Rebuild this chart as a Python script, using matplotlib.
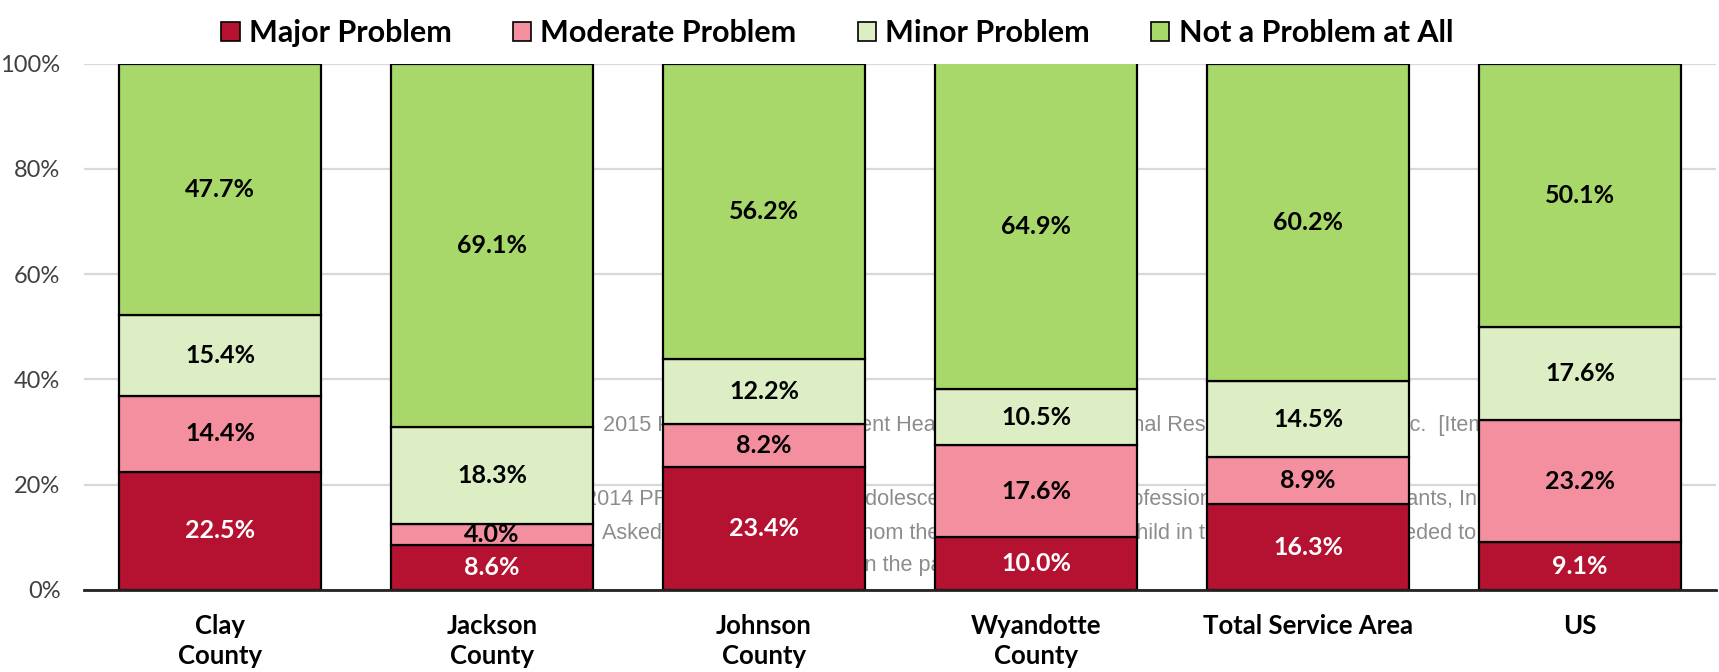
import numpy as np
import matplotlib.pyplot as plt
from matplotlib.patches import Patch

# Chart data
categories = ["Clay\nCounty", "Jackson\nCounty", "Johnson\nCounty",
              "Wyandotte\nCounty", "Total Service Area", "US"]
series_names = ["Major Problem", "Moderate Problem", "Minor Problem",
                "Not a Problem at All"]
major = [22.5, 8.6, 23.4, 10.0, 16.3, 9.1]
moderate = [14.4, 4.0, 8.2, 17.6, 8.9, 23.2]
minor = [15.4, 18.3, 12.2, 10.5, 14.5, 17.6]
not_problem = [47.7, 69.1, 56.2, 64.9, 60.2, 50.1]
y_ticks = [0, 20, 40, 60, 80, 100]
y_tick_labels = ["0%", "20%", "40%", "60%", "80%", "100%"]

# source note that sits behind the bars
note_lines = [
    "2015 PRC Child & Adolescent Health Survey, Professional Research Consultants, Inc.  [Item 121]",
    "2014 PRC National Child & Adolescent Health Survey, Professional Research Consultants, Inc.",
    "Asked about the child for whom the survey was done:  child in the past year, who needed to see a doctor",
    "see a specialist in the past year?",
]

colors = ["#B51232", "#F48FA0", "#DDEEC4", "#A8D86A"]
text_colors = ["white", "black", "black", "black"]

plt.rcParams['font.family'] = ['Lato', 'DejaVu Sans']

fig = plt.figure(figsize=(17.19, 6.72), dpi=100)
ax = fig.add_axes([84 / 1719, 1 - 590 / 672, (1716 - 84) / 1719, (590 - 63.6) / 672])

x = np.arange(len(categories))
series = [major, moderate, minor, not_problem]
bottom = np.zeros(len(categories))
for vals, name, col, tcol in zip(series, series_names, colors, text_colors):
    vals = np.array(vals)
    ax.bar(x, vals, 0.74, bottom=bottom, color=col, edgecolor="black",
           linewidth=1.6, label=name, zorder=3)
    for xi, b, v in zip(x, bottom, vals):
        top = min(b + v, 100)
        ax.text(xi, (b + top) / 2, f"{v:.1f}%", ha="center", va="center",
                fontsize=18, fontweight="bold", color=tcol, zorder=4)
    bottom += vals

# background note text (partly hidden behind bars)
note_pos = [(603, 425), (585, 499), (602, 534), (706, 565)]
for line, (px, py) in zip(note_lines, note_pos):
    ax.text(px / 1719, 1 - py / 672, line, transform=fig.transFigure,
            ha="left", va="center", fontsize=15.6, color="#8C8C8C",
            family="Liberation Sans", zorder=1, clip_on=False)

ax.set_xlim(-0.5, len(categories) - 0.5)
ax.set_ylim(0, 100)
ax.set_yticks(y_ticks)
ax.set_yticklabels(y_tick_labels, fontsize=17, color="#404040")
ax.set_xticks(x)
ax.set_xticklabels(categories, fontsize=18.5, fontweight="bold", linespacing=1.3)
ax.tick_params(axis="both", length=0)
ax.tick_params(axis="y", pad=17)
ax.tick_params(axis="x", pad=17)

ax.yaxis.grid(True, color="#D9D9D9", linewidth=1.6, zorder=0)
ax.set_axisbelow(True)
for s in ["top", "right", "left"]:
    ax.spines[s].set_visible(False)
ax.spines["bottom"].set_linewidth(2)
ax.spines["bottom"].set_color("#222222")
ax.spines["bottom"].set_zorder(5)

handles = [Patch(facecolor=c, edgecolor="black", linewidth=1.2) for c in colors]
fig.legend(handles, series_names, loc="upper center", bbox_to_anchor=(0.487, 1.012),
           ncol=4, frameon=False, prop={"weight": "bold", "size": 22},
           handlelength=0.6, handleheight=0.6, handletextpad=0.3, columnspacing=2.0)

fig.savefig("out.png", dpi=100)
